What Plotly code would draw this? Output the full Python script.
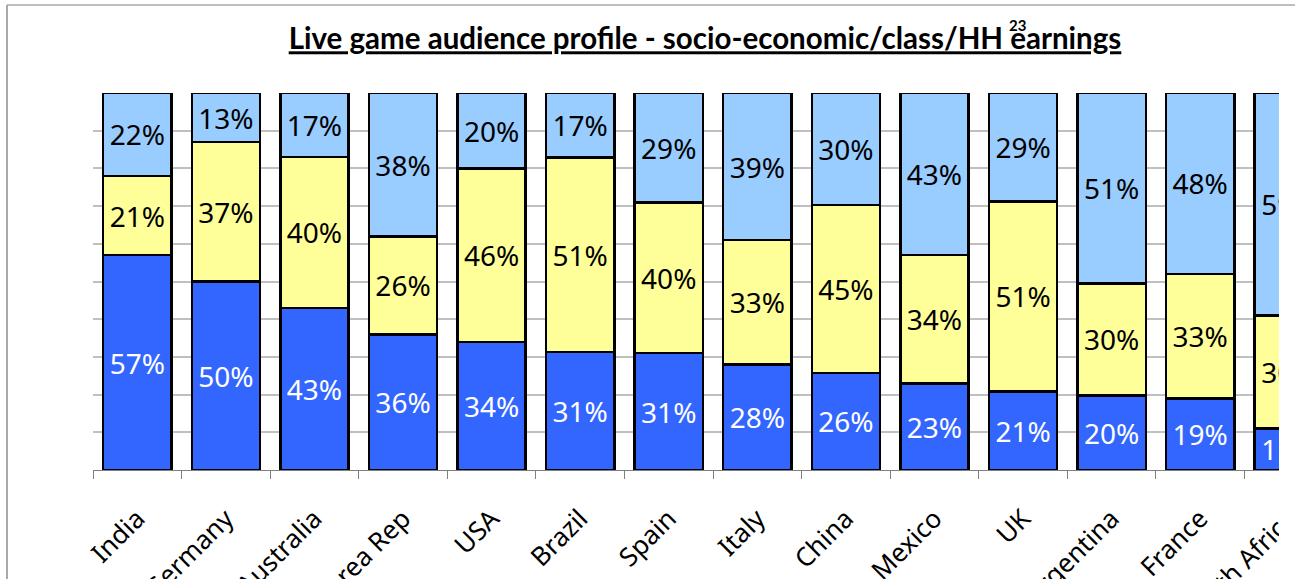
import plotly.graph_objects as go

categories = ["India", "Germany", "Australia", "Korea Rep", "USA", "Brazil", "Spain",
              "Italy", "China", "Mexico", "UK", "Argentina", "France", "South Africa"]
low_vals = [57, 50, 43, 36, 34, 31, 31, 28, 26, 23, 21, 20, 19, 11]
mid_vals = [21, 37, 40, 26, 46, 51, 40, 33, 45, 34, 51, 30, 33, 30]
high_vals = [22, 13, 17, 38, 20, 17, 29, 39, 30, 43, 29, 51, 48, 59]

series = [
    ("Low", low_vals, "#3366FF", "white"),
    ("Mid", mid_vals, "#FFFF99", "black"),
    ("High", high_vals, "#99CCFF", "black"),
]

FONT = "Noto Sans"
TITLE_FONT = "Lato"
W, H = 1295, 579
L, T, B = 93, 93, 109
PW = W - L
PH = H - T - B

def px_x(p):
    return (p - L) / PW

def px_y(p):
    return (H - B - p) / PH

fig = go.Figure()
for name, vals, color, tcolor in series:
    fig.add_trace(go.Bar(
        name=name, x=categories, y=vals,
        text=vals, texttemplate="%{text}%",
        textposition="inside", insidetextanchor="middle", textangle=0,
        constraintext="none",
        textfont=dict(family=FONT, size=28, color=tcolor),
        marker=dict(color=color, line=dict(color="black", width=2.5)),
    ))

fig.update_layout(
    barmode="stack", barnorm="percent", bargap=0.23,
    width=W, height=H,
    margin=dict(l=L, r=0, t=T, b=B, pad=0, autoexpand=False),
    paper_bgcolor="white", plot_bgcolor="white",
    showlegend=False,
    font=dict(family=FONT, color="black"),
    title=dict(
        text="<u>Live game audience profile - socio-economic/class/HH earnings</u>",
        x=(705 / W), xanchor="center", y=1 - 39 / H, yanchor="middle",
        font=dict(family=TITLE_FONT, size=29.5, color="black", weight="bold"),
        automargin=False,
    ),
    xaxis=dict(
        range=[-0.5, 13.07], type="category", automargin=False,
        showgrid=False, showline=True, linecolor="#808080", linewidth=1,
        ticks="outside", tickson="boundaries", ticklen=8, tickcolor="#808080",
        tickangle=-45, tickfont=dict(family=FONT, size=26, color="black"),
        ticklabelstandoff=22,
    ),
    yaxis=dict(
        range=[0, 100], dtick=10, showticklabels=False, automargin=False,
        showgrid=True, gridcolor="#C0C0C0", gridwidth=2,
        zeroline=False, showline=False,
    ),
    shapes=[
        dict(type="rect", xref="paper", yref="paper",
             x0=px_x(1279), x1=px_x(W + 5), y0=px_y(H + 5), y1=px_y(-5),
             fillcolor="white", line=dict(width=0), layer="above"),
        dict(type="line", xref="paper", yref="paper",
             x0=px_x(7), x1=px_x(7), y0=px_y(H + 5), y1=px_y(5),
             line=dict(color="#8C8C8C", width=1.5), layer="above"),
        dict(type="line", xref="paper", yref="paper",
             x0=px_x(7), x1=px_x(W + 5), y0=px_y(5), y1=px_y(5),
             line=dict(color="#A8A8A8", width=1.5), layer="above"),
    ],
    annotations=[
        dict(text="<b>23</b>", xref="paper", yref="paper",
             x=px_x(1017), y=px_y(25), xanchor="center", yanchor="middle",
             showarrow=False, font=dict(family=TITLE_FONT, size=15, color="black")),
    ],
)

fig.write_html("out.html", config={"displayModeBar": False},
               post_script="document.body.style.margin='0';document.body.style.overflow='hidden';")
